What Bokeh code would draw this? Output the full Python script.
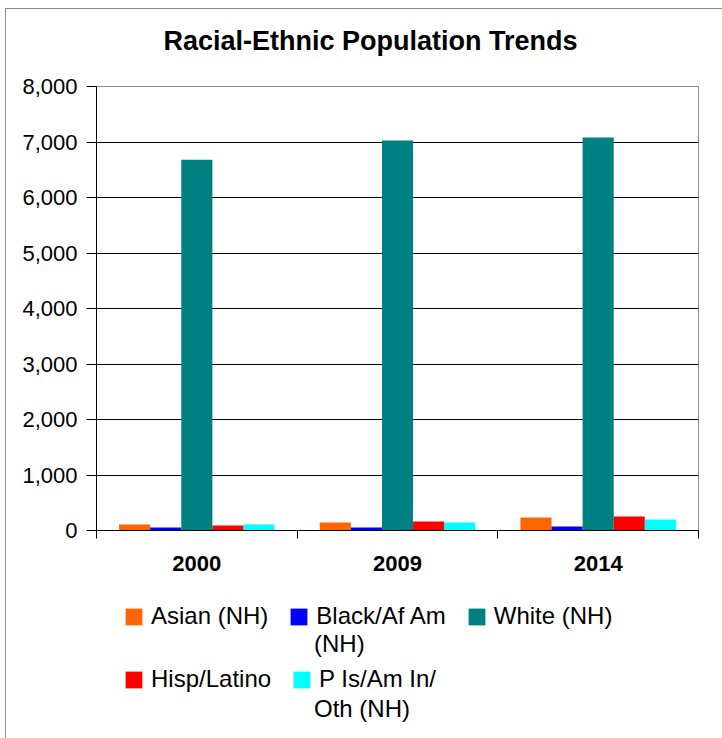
from bokeh.plotting import figure
from bokeh.layouts import column
from bokeh.models import (ColumnDataSource, FixedTicker, NumeralTickFormatter, Legend,
                          LegendItem, Range1d, Title)
from bokeh.transform import dodge
from bokeh.embed import file_html
from bokeh.resources import INLINE

years = ["2000", "2009", "2014"]
asian = [108, 144, 234]
black = [54, 54, 72]
white = [6680, 7025, 7080]
hisp = [90, 162, 252]
pis = [108, 144, 198]

series_names = ["Asian (NH)", "Black/Af Am", "White (NH)", "Hisp/Latino", "P Is/Am In/"]
name_second_lines = ["", "(NH)", "", "", "Oth (NH)"]
series_vals = [asian, black, white, hisp, pis]
colors = ["#FF6600", "#0000FF", "#008080", "#FF0000", "#00FFFF"]
y_ticks = [0, 1000, 2000, 3000, 4000, 5000, 6000, 7000, 8000]

FONT = "Liberation Sans"
W = 717
ML, MR = 90, 25

xc = [i + 0.5 for i in range(len(years))]
data = {"x": xc}
for k, v in enumerate(series_vals):
    data["s%d" % k] = v
src = ColumnDataSource(data)


def blank(fig):
    fig.grid.grid_line_color = None
    fig.outline_line_color = None
    fig.background_fill_color = "white"
    fig.border_fill_color = "white"


# ---- title strip
T = 48
tf = figure(width=W, height=T, output_backend="svg", toolbar_location=None,
            x_axis_type=None, y_axis_type=None, min_border_top=0, min_border_bottom=0,
            min_border_left=ML, min_border_right=MR)
blank(tf)
tf.add_layout(Title(text="Racial-Ethnic Population Trends", align="left", offset=67,
                    vertical_align="middle",
                    text_font=FONT, text_font_size="27px", text_font_style="bold",
                    text_color="black", standoff=2), "below")

# ---- main chart
H1 = 533
p = figure(width=W, height=H1, output_backend="svg", toolbar_location=None,
           x_range=Range1d(0, len(years)), y_range=Range1d(0, 8000),
           min_border_left=ML, min_border_right=MR, min_border_top=29, min_border_bottom=60)

bw = 0.155
offsets = [-2 * bw, -bw, 0, bw, 2 * bw]
for k in range(len(series_vals)):
    p.vbar(x=dodge("x", offsets[k], range=p.x_range), top="s%d" % k, width=bw,
           source=src, fill_color=colors[k], line_color=None)

yax = p.yaxis[0]
yax.ticker = FixedTicker(ticks=y_ticks)
yax.formatter = NumeralTickFormatter(format="0,0")
yax.major_label_text_font = FONT
yax.major_label_text_font_size = "22px"
yax.major_label_text_color = "black"
yax.major_tick_out = 10
yax.major_tick_in = 0
yax.minor_tick_out = 0
yax.minor_tick_in = 0
yax.axis_line_color = "black"
yax.major_tick_line_color = "black"
yax.major_label_standoff = 9

xax = p.xaxis[0]
xax.ticker = FixedTicker(ticks=xc, minor_ticks=list(range(len(years) + 1)))
xax.major_label_overrides = {xc[i]: years[i] for i in range(len(years))}
xax.major_label_text_font = FONT
xax.major_label_text_font_size = "22px"
xax.major_label_text_font_style = "bold"
xax.major_label_text_color = "black"
xax.major_tick_out = 0
xax.major_tick_in = 0
xax.minor_tick_out = 8
xax.minor_tick_in = 0
xax.minor_tick_line_color = "black"
xax.axis_line_color = "black"
xax.major_label_standoff = 17

p.xgrid.grid_line_color = None
p.ygrid.ticker = FixedTicker(ticks=y_ticks)
p.ygrid.grid_line_color = "black"
p.ygrid.grid_line_width = 1
p.outline_line_color = "#8a8a8a"
p.background_fill_color = "white"
p.border_fill_color = "white"

# ---- legend strip (key renderers are hidden; the legend still draws their swatches)
H2 = 148
lf = figure(width=W, height=H2, output_backend="svg", toolbar_location=None,
            x_range=Range1d(0, len(years)), y_range=Range1d(0, 8000),
            x_axis_type=None, y_axis_type=None, min_border_top=0, min_border_bottom=0,
            min_border_left=ML, min_border_right=MR)
blank(lf)
keys = []
for k in range(len(series_vals)):
    keys.append(lf.vbar(x=dodge("x", offsets[k], range=lf.x_range), top="s%d" % k, width=bw,
                        source=src, fill_color=colors[k], line_color=None, visible=False))
nokey = lf.vbar(x="x", top="s0", width=bw, source=src,
                fill_alpha=0, line_color=None, visible=False)

leg_style = dict(orientation="horizontal", click_policy="none",
                 label_text_font=FONT, label_text_font_size="24px", label_text_color="black",
                 glyph_width=21, glyph_height=21, label_standoff=7, spacing=20,
                 border_line_color=None, background_fill_alpha=0,
                 inactive_fill_alpha=0, padding=0, margin=0)


def row_items(idx):
    return [LegendItem(label=series_names[i], renderers=[keys[i]]) for i in idx]


leg_r1 = Legend(items=row_items([0, 1, 2]), location=(27, 108), **leg_style)
leg_r1b = Legend(items=[LegendItem(label=name_second_lines[1], renderers=[nokey])],
                 location=(190, 80), **leg_style)
leg_r2 = Legend(items=row_items([3, 4]), location=(27, 45), **leg_style)
leg_r2b = Legend(items=[LegendItem(label=name_second_lines[4], renderers=[nokey])],
                 location=(190, 15), **leg_style)
for lg in (leg_r1, leg_r1b, leg_r2, leg_r2b):
    lf.add_layout(lg, "center")

layout = column(tf, p, lf, spacing=0, margin=(8, 0, 0, 5),
                styles={"border-left": "1px solid #8a8a8a", "border-top": "1px solid #8a8a8a"})

open("out.html", "w").write(file_html(layout, INLINE))
